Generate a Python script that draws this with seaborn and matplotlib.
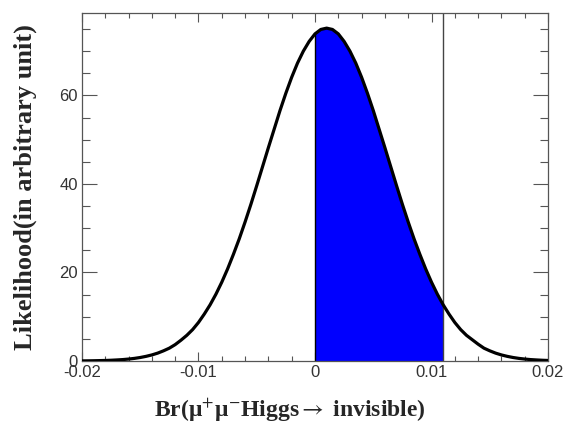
import numpy as np
import pandas as pd
import seaborn as sns
import matplotlib.pyplot as plt
from matplotlib.ticker import MultipleLocator

# branching ratio grid and likelihood
br = np.round(np.arange(-0.02, 0.02001, 0.0005), 4)
likelihood = [
    0.03, 0.04, 0.06, 0.09, 0.12, 0.17, 0.24, 0.32, 0.44, 0.59,
    0.79, 1.05, 1.37, 1.78, 2.3, 2.9, 3.7, 4.7, 5.8, 7.1,
    8.7, 10.6, 12.7, 15.1, 17.8, 20.8, 24.1, 27.6, 31.4, 35.4,
    39.6, 43.9, 48.2, 52.4, 56.6, 60.5, 64.1, 67.3, 70.0, 72.2,
    73.9, 74.9, 75.2, 74.9, 73.9, 72.2, 70.0, 67.3, 64.1, 60.5,
    56.6, 52.4, 48.2, 43.9, 39.6, 35.4, 31.4, 27.6, 24.1, 20.8,
    17.8, 15.1, 12.7, 10.6, 8.7, 7.1, 5.8, 4.8, 3.8, 2.9,
    2.3, 1.78, 1.37, 1.05, 0.79, 0.59, 0.44, 0.32, 0.24, 0.17,
    0.12,
]
band_lo = 0.0
band_hi = 0.011

df = pd.DataFrame({'br': br, 'L': likelihood})

sns.set_style('ticks')
plt.rcParams['font.family'] = ['Liberation Sans', 'DejaVu Sans']
plt.rcParams['mathtext.fontset'] = 'stix'

fig = plt.figure(figsize=(5.65, 4.29), dpi=100)
ax = fig.add_axes([0.145, 0.1585, 0.825, 0.811])

band = df[(df['br'] >= band_lo) & (df['br'] <= band_hi)]
ax.fill_between(band['br'], 0, band['L'], color='#0000ff', linewidth=0, zorder=1)
ax.plot([band_lo, band_lo], [0, band['L'].iloc[0]], color='black', lw=1.0, zorder=2)
ax.axvline(band_hi, color='#444444', lw=1.0, zorder=2)

sns.lineplot(data=df, x='br', y='L', color='black', lw=2.3, ax=ax, zorder=3)

ax.set_xlim(-0.02, 0.02)
ax.set_ylim(0, 78.6)
ax.xaxis.set_minor_locator(MultipleLocator(0.002))
ax.yaxis.set_minor_locator(MultipleLocator(5))
ax.set_xticks([-0.02, -0.01, 0, 0.01, 0.02])
ax.set_xticklabels(['-0.02', '-0.01', '0', '0.01', '0.02'])
ax.set_yticks([0, 20, 40, 60])
ax.set_yticklabels(['0', '20', '40', '60'])

ax.tick_params(axis='x', which='major', direction='in', length=6.5, width=0.8,
               top=True, labelsize=12, colors='#555555', labelcolor='#333333', pad=3)
ax.tick_params(axis='x', which='minor', direction='in', length=3.4, width=0.8,
               top=True, colors='#555555')
ax.tick_params(axis='y', which='major', direction='in', length=10.8, width=0.8,
               right=True, labelsize=12, colors='#555555', labelcolor='#333333', pad=3)
ax.tick_params(axis='y', which='minor', direction='in', length=5.8, width=0.8,
               right=True, colors='#555555')
for s in ax.spines.values():
    s.set_color('#555555')
    s.set_linewidth(0.9)

serif = ['Liberation Serif', 'DejaVu Serif']
ax.set_xlabel('Br(μ$^{+}$μ$^{-}$Higgs$\\rightarrow$ invisible)', family=serif,
              fontweight='bold', fontsize=17)
ax.set_ylabel('Likelihood(in arbitrary unit)', family=serif, fontweight='bold', fontsize=19)
ax.xaxis.set_label_coords(0.447, -0.141)
ax.yaxis.set_label_coords(-0.122, 0.5)
ax.xaxis.label.set_va('center')
ax.yaxis.label.set_va('center')

fig.savefig('out.png', dpi=100)
